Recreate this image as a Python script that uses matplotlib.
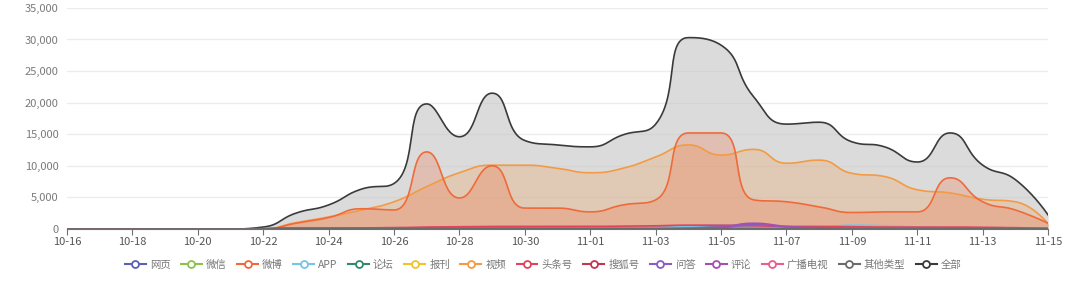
import numpy as np
import matplotlib
matplotlib.use("Agg")
import matplotlib.pyplot as plt
from matplotlib.lines import Line2D

plt.rcParams['font.family'] = ['Noto Sans CJK SC', 'DejaVu Sans']

dates = ['10-16', '10-17', '10-18', '10-19', '10-20', '10-21', '10-22', '10-23',
         '10-24', '10-25', '10-26', '10-27', '10-28', '10-29', '10-30', '10-31',
         '11-01', '11-02', '11-03', '11-04', '11-05', '11-06', '11-07', '11-08',
         '11-09', '11-10', '11-11', '11-12', '11-13', '11-14', '11-15']

# series values
web = [0, 0, 0, 0, 0, 0, 100, 150, 150, 150, 150, 200, 200, 200, 200, 200,
       200, 200, 250, 300, 300, 300, 250, 250, 200, 200, 200, 200, 200, 150, 100]
wechat = [0, 0, 0, 0, 0, 0, 0, 20, 30, 30, 40, 50, 50, 50, 50, 50,
          50, 60, 80, 100, 150, 200, 250, 350, 300, 200, 150, 120, 100, 80, 50]
weibo = [0, 0, 0, 0, 0, 0, 0, 900, 1800, 3200, 3000, 12200, 4900, 10000, 3300, 3300,
         2700, 3800, 4600, 15200, 15200, 4600, 4300, 3500, 2600, 2700, 2700, 8100, 4300, 3000, 900]
app = [0, 0, 0, 0, 0, 0, 0, 20, 30, 30, 40, 50, 60, 60, 60, 80,
       100, 120, 200, 400, 600, 500, 300, 250, 600, 500, 300, 200, 150, 100, 50]
forum = [0, 0, 0, 0, 0, 0, 0, 10, 10, 10, 10, 20, 20, 20, 20, 20,
         20, 20, 30, 40, 40, 40, 40, 40, 30, 30, 30, 30, 20, 20, 10]
press = [0, 0, 0, 0, 0, 0, 0, 10, 20, 20, 20, 30, 30, 30, 30, 30,
         30, 30, 40, 60, 60, 80, 80, 100, 80, 60, 50, 40, 30, 20, 10]
video = [0, 0, 0, 0, 0, 0, 0, 1000, 1900, 3000, 4300, 6700, 8900, 10100, 10100, 9600,
         8900, 9600, 11400, 13300, 11700, 12600, 10400, 10900, 8800, 8300, 6200, 5700, 4700, 4300, 800]
toutiao = [0, 0, 0, 0, 0, 0, 0, 50, 100, 150, 200, 300, 350, 400, 400, 400,
           400, 450, 500, 600, 600, 500, 400, 400, 350, 300, 300, 300, 250, 200, 100]
sohu = [0, 0, 0, 0, 0, 0, 0, 10, 20, 20, 20, 30, 30, 30, 30, 30,
        30, 30, 40, 50, 50, 50, 50, 40, 40, 30, 30, 30, 20, 20, 10]
qa = [0, 0, 0, 0, 0, 0, 0, 10, 10, 10, 10, 20, 20, 20, 20, 20,
      20, 20, 30, 50, 200, 700, 300, 100, 50, 40, 30, 30, 20, 20, 10]
comment = [0, 0, 0, 0, 0, 0, 0, 10, 10, 10, 10, 20, 20, 20, 20, 20,
           20, 20, 30, 80, 300, 900, 400, 200, 100, 60, 40, 30, 20, 20, 10]
broadcast = [0, 0, 0, 0, 0, 0, 0, 5, 5, 5, 5, 10, 10, 10, 10, 10,
             10, 10, 10, 20, 20, 20, 20, 20, 10, 10, 10, 10, 10, 10, 5]
other = [0, 0, 0, 0, 0, 0, 0, 10, 10, 20, 20, 30, 30, 30, 30, 30,
         30, 30, 40, 50, 50, 50, 40, 40, 30, 30, 30, 30, 20, 20, 10]
total = [0, 0, 0, 0, 0, 0, 300, 2500, 3800, 6300, 7200, 19800, 14600, 21500, 14000, 13300,
         13000, 14900, 16600, 30300, 29100, 20900, 16600, 16900, 13800, 13000, 10600, 15200, 10100, 7800, 2200]

series = [
    ('网页', web, '#5b5fb5', 0),
    ('微信', wechat, '#8cc152', 0),
    ('微博', weibo, '#ef6a3a', 0.25),
    ('APP', app, '#73c6e6', 0),
    ('论坛', forum, '#2e8b6a', 0),
    ('报刊', press, '#f2c12e', 0),
    ('视频', video, '#f39a44', 0.25),
    ('头条号', toutiao, '#e0445a', 0),
    ('搜狐号', sohu, '#c8334f', 0),
    ('问答', qa, '#8d5bc4', 0),
    ('评论', comment, '#a550b0', 0),
    ('广播电视', broadcast, '#ea5d8c', 0),
    ('其他类型', other, '#6b6b6b', 0),
    ('全部', total, '#3a3a3a', 0.22),
]

XS, YS = 32.7, 221 / 35000.0  # px per day / px per unit, for smoothing


def clamp(c, a, b):
    return np.clip(c, np.minimum(a, b), np.maximum(a, b))


def smooth(vals, k=0.5, n=30):
    # bezier smoothing like echarts "smooth: true" (clamped, tangent kept)
    p = np.column_stack([np.arange(len(vals)) * XS, np.asarray(vals, float) * YS])
    m = len(p)
    cin, cout = p.copy(), p.copy()
    for i in range(1, m - 1):
        prev, cur, nxt = p[i - 1], p[i], p[i + 1]
        v = nxt - prev
        d0 = np.linalg.norm(cur - prev)
        d1 = np.linalg.norm(nxt - cur)
        r = d1 / (d0 + d1)
        b = clamp(cur + v * k * r, cur, nxt)
        a = clamp(cur - (b - cur) * d0 / d1, prev, cur)
        b = cur + (cur - a) * d1 / d0
        cin[i], cout[i] = a, b
    t = np.linspace(0, 1, n)[:, None]
    out = []
    for i in range(m - 1):
        p0, p3 = p[i], p[i + 1]
        c1, c2 = cout[i], cin[i + 1]
        seg = ((1 - t) ** 3) * p0 + 3 * ((1 - t) ** 2) * t * c1 + 3 * (1 - t) * t ** 2 * c2 + t ** 3 * p3
        out.append(seg if i == 0 else seg[1:])
    out = np.vstack(out)
    return out[:, 0] / XS, np.clip(out[:, 1] / YS, 0, None)


fig = plt.figure(figsize=(10.8, 2.83), dpi=100)
ax = fig.add_axes([0.062, 0.191, 0.9085, 0.781])

x = np.arange(len(dates))
# filled ones first, in the order the reference stacks them
draw_order = [13, 6, 2] + [i for i in range(13) if i not in (2, 6)]
for z, idx in enumerate(draw_order):
    name, vals, col, alpha = series[idx]
    sx, sy = smooth(vals)
    if alpha:
        fc = '#c4c4c4' if name == '全部' else col
        ax.fill_between(sx, 0, sy, color=fc, alpha=0.6 if name == '全部' else alpha,
                        lw=0, zorder=2 + z * 0.01)
    ax.plot(sx, sy, color=col, lw=1.2, zorder=3 + z * 0.01)

ax.set_xlim(0, len(dates) - 1)
ax.set_ylim(0, 35000)
ax.set_yticks(np.arange(0, 35001, 5000))
ax.set_yticklabels([f'{v:,}' for v in range(0, 35001, 5000)])
ax.set_xticks(x[::2])
ax.set_xticklabels(dates[::2])
ax.grid(axis='y', color='#ececec', lw=1, zorder=0)
for s in ['top', 'right', 'left']:
    ax.spines[s].set_visible(False)
ax.spines['bottom'].set_color('#6e7079')
ax.tick_params(axis='y', length=0, colors='#7a7a7a', labelsize=8, pad=6)
ax.tick_params(axis='x', length=4, color='#6e7079', colors='#555555', labelsize=8, pad=2)

handles = [Line2D([], [], color=c, lw=1.5, marker='o', markersize=5,
                  markerfacecolor='white', markeredgewidth=1.3)
           for _, _, c, _ in series]
labels = [n for n, _, _, _ in series]
fig.legend(handles, labels, loc='center', bbox_to_anchor=(0.503, 0.065), ncol=14,
           frameon=False, fontsize=7.5, handlelength=2.0, handletextpad=0.4,
           columnspacing=1.0, labelcolor='#777777')

fig.savefig('out.png', dpi=100)
